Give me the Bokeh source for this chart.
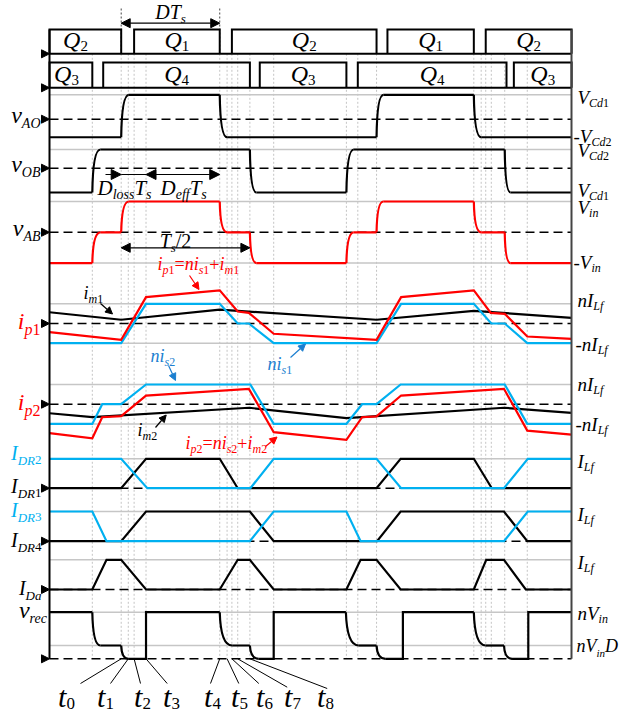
from bokeh.plotting import figure
from bokeh.models import Range1d, ColumnDataSource, Arrow, NormalHead
from bokeh.core.properties import value
from bokeh.embed import file_html
from bokeh.resources import INLINE

# ======================= DATA (time in % of switching period Ts) =======================
T_END = 206.1
t_grid = [16.9, 28.3, 31.1, 33.4, 38.1, 67.2, 70.1, 72.0, 74.3, 79.1, 88.5,
          117.2, 121.7, 129.1, 167.5, 170.4, 172.2, 174.4, 179.7, 188.6]
t_marks = [28.3, 31.1, 33.4, 38.1, 67.2, 70.1, 72.0, 74.3, 79.1]          # t0..t8
t_names = ["0", "1", "2", "3", "4", "5", "6", "7", "8"]
dts_span = [28.3, 67.2]          # D*Ts
half_ts_span = [28.3, 79.1]      # Ts/2
dloss_span = [28.3, 38.1]
deff_span = [38.1, 67.2]

q12_start = [0.0, 33.4, 72.0, 133.4, 172.2]
q12_end = [28.3, 67.2, 129.1, 167.5, T_END]
q12_name = ["2", "1", "2", "1", "2"]
q34_start = [0.0, 21.2, 83.0, 121.7, 183.3]
q34_end = [16.9, 79.1, 117.2, 180.4, T_END]
q34_name = ["3", "4", "3", "4", "3"]

vAO_t = [0, 28.3, 31.3, 67.2, 70.1, 129.1, 131.8, 167.5, 170.4, T_END]
vAO_v = [-0.74, -0.74, 1, 1, -0.74, -0.74, 1, 1, -0.74, -0.74]
vAO_curve = [2, 4, 6, 8]

vOB_t = [0, 16.9, 20.1, 79.1, 81.7, 117.2, 120.1, 179.7, 182.0, T_END]
vOB_v = [-1.3, -1.3, 1, 1, -1.3, -1.3, 1, 1, -1.3, -1.3]
vOB_curve = [2, 4, 6, 8]

vAB_t = [0, 16.9, 20.1, 28.3, 31.3, 67.2, 70.1, 79.1, 81.7, 117.2, 120.1, 129.1, 131.8,
         167.5, 170.4, 179.7, 182.0, T_END]
vAB_v = [-1, -1, 0, 0, 1, 1, 0, 0, -1, -1, 0, 0, 1, 1, 0, 0, -1, -1]
vAB_curve = [2, 4, 6, 8, 10, 12, 14, 16]

im1_t = [0, 28.3, 67.2, 129.1, 167.5, T_END]
im1_v = [0.57, 0.19, 0.70, 0.19, 0.64, 0.29]
nis1_t = [0, 28.3, 38.1, 67.2, 74.3, 78.7, 88.5, 129.1, 138.8, 167.5, 174.4, 179.7, 188.6, T_END]
nis1_v = [-1, -1, 1, 1, 0, 0, -1, -1, 1, 1, 0, 0, -1, -1]
ip1_t = [0, 28.3, 38.1, 67.2, 74.3, 78.7, 88.5, 129.1, 138.8, 167.5, 174.2, 179.7, 188.6, T_END]
ip1_v = [-0.44, -0.83, 1.34, 1.68, 0.61, 0.54, -0.52, -0.83, 1.34, 1.68, 0.54, 0.49, -0.66, -0.78]

im2_t = [0, 16.9, 78.7, 117.2, 179.4, T_END]
im2_v = [-0.46, -0.66, -0.18, -0.71, -0.18, -0.44]
nis2_t = [0, 16.9, 20.8, 28.3, 38.1, 79.3, 88.5, 117.2, 123.4, 129.1, 138.6, 179.7, 188.6, T_END]
nis2_v = [-1, -1, 0, 0, 1, 1, -1, -1, 0, 0, 1, 1, -1, -1]
ip2_t = [0, 16.9, 20.8, 28.3, 38.1, 78.7, 88.5, 117.2, 123.4, 129.1, 138.8, 179.4, 188.6, T_END]
ip2_v = [-1.47, -1.73, -0.66, -0.61, 0.44, 0.78, -1.42, -1.81, -0.66, -0.62, 0.44, 0.78, -1.34, -1.54]

idr2_t = [0, 28.3, 38.6, 79.3, 88.5, 129.1, 138.8, 179.4, 188.8, T_END]
idr2_v = [1, 1, 0, 0, 1, 1, 0, 0, 1, 1]
idr1_t = [0, 28.3, 38.1, 67.2, 74.3, 129.1, 138.6, 167.5, 174.6, T_END]
idr1_v = [0, 0, 1, 1, 0, 0, 1, 1, 0, 0]
idr3_t = [0, 16.9, 22.5, 79.1, 88.5, 117.2, 122.8, 179.4, 188.8, T_END]
idr3_v = [1, 1, 0, 0, 1, 1, 0, 0, 1, 1]
idr4_t = [0, 28.3, 38.1, 79.1, 88.5, 129.3, 138.6, 179.4, 188.6, T_END]
idr4_v = [0, 0, 1, 1, 0, 0, 1, 1, 0, 0]
ida_t = [0, 16.9, 22.5, 28.3, 38.1, 67.2, 74.3, 79.1, 88.5, 117.2, 122.8, 129.1, 138.6,
         167.5, 172.4, 179.4, 188.0, T_END]
ida_v = [0, 0, 1, 1, 0, 0, 1, 1, 0, 0, 1, 1, 0, 0, 1, 1, 0, 0]

D = 0.285
vrec_t = [0, 16.9, 20.1, 28.3, 31.1, 38.1, 38.1, 67.2, 72.1, 79.1, 82.6, 88.5, 88.5,
          117.0, 122.1, 129.1, 132.6, 139.5, 139.5, 167.5, 172.2, 179.4, 182.6, 189.0, 189.0, T_END]
vrec_v = [1, 1, D, D, 0, 0, 1, 1, D, D, 0, 0, 1, 1, D, D, 0, 0, 1, 1, D, D, 0, 0, 1, 1]
vrec_curve = [2, 4, 8, 10, 14, 16, 20, 22]

# ======================= LAYOUT =======================
W, H = 620, 718
X0, KX = 49.0, 2.5333          # left edge, px per % of Ts
XL, XR = 49.0, 571.0
ROW = {  # zero level, unit level (pixel rows)
    "q12": (53.3, 29.0), "q34": (87.3, 62.0),
    "vAO": (118.7, 94.3), "vOB": (167.7, 149.0), "vAB": (231.8, 201.0),
    "ip1": (323.0, 303.3), "ip2": (403.7, 384.0),
    "idr12": (487.7, 458.3), "idr34": (540.7, 511.0), "ida": (589.0, 559.3),
    "vrec": (658.3, 611.7),
}
RED = "#ff0000"
BLUE = "#00b0f0"
BLUE_D = "#1c7fd0"
GREY = "#c6c6c6"
FONT = "Liberation Serif"


def tx(t):
    return X0 + KX * t


def ty(row, v):
    y0, y1 = ROW[row]
    return y0 + (y1 - y0) * v


p = figure(width=W, height=H, x_range=Range1d(0, W), y_range=Range1d(H, 0),
           output_backend="svg", toolbar_location=None, min_border=0,
           x_axis_type=None, y_axis_type=None, outline_line_color=None,
           background_fill_color="white", border_fill_color="white")
p.grid.visible = False

# ---- vertical dotted grid
p.segment(x0=[tx(t) for t in t_grid], y0=[ROW["q12"][0]] * len(t_grid),
          x1=[tx(t) for t in t_grid], y1=[ROW["vrec"][0]] * len(t_grid),
          line_color="#c4c4c4", line_width=1, line_dash="2 2")
p.segment(x0=[tx(t) for t in dts_span], y0=[8, 8], x1=[tx(t) for t in dts_span],
          y1=[ROW["q12"][0]] * 2, line_color="#444444", line_width=1, line_dash="2 2")

# ---- grey level lines
levels = [("vAO", 1), ("vOB", 1), ("vAB", 1), ("vAB", -1), ("ip1", 1), ("ip1", -1),
          ("ip2", 1), ("ip2", -1), ("idr12", 1), ("idr34", 1), ("ida", 1),
          ("vrec", 1), ("vrec", D)]
p.segment(x0=[XL] * len(levels), x1=[XR] * len(levels),
          y0=[ty(r, v) for r, v in levels], y1=[ty(r, v) for r, v in levels],
          line_color=GREY, line_width=1.5)

# ---- dashed zero lines
zrows = ["vAO", "vOB", "vAB", "ip1", "ip2", "idr12", "idr34", "ida", "vrec"]
p.segment(x0=[XL] * len(zrows), x1=[XR] * len(zrows),
          y0=[ty(r, 0) for r in zrows], y1=[ty(r, 0) for r in zrows],
          line_color="black", line_width=1.5, line_dash="9 5")


def wave(t, v, row, color, curved=(), width=2.2):
    xs = [tx(a) for a in t]
    ys = [ty(row, b) for b in v]
    runs_x, runs_y = [], []
    cx, cy = [xs[0]], [ys[0]]
    q = dict(x0=[], y0=[], x1=[], y1=[], cx=[], cy=[])
    for i in range(1, len(xs)):
        if i in curved:
            if len(cx) > 1:
                runs_x.append(cx); runs_y.append(cy)
            q["x0"].append(xs[i - 1]); q["y0"].append(ys[i - 1])
            q["x1"].append(xs[i]); q["y1"].append(ys[i])
            q["cx"].append(xs[i - 1] + 0.08 * (xs[i] - xs[i - 1])); q["cy"].append(ys[i])
            cx, cy = [xs[i]], [ys[i]]
        else:
            cx.append(xs[i]); cy.append(ys[i])
    if len(cx) > 1:
        runs_x.append(cx); runs_y.append(cy)
    p.multi_line(xs=runs_x, ys=runs_y, line_color=color, line_width=width, line_join="miter")
    if q["x0"]:
        p.quadratic(x0="x0", y0="y0", x1="x1", y1="y1", cx="cx", cy="cy",
                    source=ColumnDataSource(q), line_color=color, line_width=width)


# ---- gate signals
for row, st, en in (("q12", q12_start, q12_end), ("q34", q34_start, q34_end)):
    xs, ys = [], []
    for a, b in zip(st, en):
        xs.append([tx(a), tx(a), tx(b), tx(b)])
        ys.append([ty(row, 0), ty(row, 1), ty(row, 1), ty(row, 0)])
    p.multi_line(xs=xs, ys=ys, line_color="black", line_width=2, line_join="miter")
    p.line([XL, XR], [ty(row, 0)] * 2, line_color="black", line_width=2)

# ---- waveforms
wave(vAO_t, vAO_v, "vAO", "black", vAO_curve)
wave(vOB_t, vOB_v, "vOB", "black", vOB_curve)
wave(vAB_t, vAB_v, "vAB", RED, vAB_curve)
wave(im1_t, im1_v, "ip1", "black")
wave(nis1_t, nis1_v, "ip1", BLUE)
wave(ip1_t, ip1_v, "ip1", RED)
wave(im2_t, im2_v, "ip2", "black")
wave(nis2_t, nis2_v, "ip2", BLUE)
wave(ip2_t, ip2_v, "ip2", RED)
wave(idr1_t, idr1_v, "idr12", "black")
wave(idr2_t, idr2_v, "idr12", BLUE)
wave(idr4_t, idr4_v, "idr34", "black")
wave(idr3_t, idr3_v, "idr34", BLUE)
wave(ida_t, ida_v, "ida", "black")
wave(vrec_t, vrec_v, "vrec", "black", vrec_curve)

# ---- frame lines
p.line([XL, XL], [ROW["q12"][1], ROW["vrec"][0]], line_color="black", line_width=2)
p.line([XR, XR], [ROW["q12"][1], ROW["vrec"][0]], line_color="#444444", line_width=2)

# ---- left arrow markers
mrows = ["q12", "q34", "vAO", "vOB", "vAB", "ip1", "ip2", "idr12", "idr34", "ida", "vrec"]
p.patches(xs=[[XL - 8, XL, XL - 8] for _ in mrows],
          ys=[[ty(r, 0) - 4, ty(r, 0), ty(r, 0) + 4] for r in mrows],
          fill_color="black", line_color="black", line_width=1)

# ======================= TEXT =======================
IT_W = {"A": .611, "B": .611, "C": .667, "D": .722, "I": .333, "L": .556, "O": .722,
        "Q": .722, "R": .611, "T": .556, "V": .611, "a": .5, "c": .444, "d": .5,
        "e": .444, "f": .278, "i": .278, "l": .278, "m": .722, "n": .5, "o": .5,
        "p": .5, "r": .389, "s": .389, "t": .278, "v": .444}
RG_W = {"-": .333, "=": .564, "+": .564, "/": .278, " ": .25}
txt = dict(x=[], y=[], text=[], size=[], style=[], color=[])
MID = 0.34   # em-box middle above the baseline


def rich(x, y, parts, color, size, sub, align="left", dy=None):
    """y is the baseline of the main text"""
    if dy is None:
        dy = 0.22 * size
    runs = []
    for s, is_sub in parts:
        fs = sub if is_sub else size
        cur, cls = "", None
        for ch in s:
            c = "italic" if ch.isalpha() else "normal"
            if cur and c != cls:
                runs.append((cur, cls, fs, is_sub)); cur = ""
            cls = c; cur += ch
        if cur:
            runs.append((cur, cls, fs, is_sub))
    ws = []
    for r, st, fs, _ in runs:
        tab = IT_W if st == "italic" else RG_W
        ws.append(sum(tab.get(ch, 0.5) for ch in r) * fs)
    tot = sum(ws)
    cx = x - tot if align == "right" else (x - tot / 2 if align == "center" else x)
    for (r, st, fs, is_sub), w in zip(runs, ws):
        base = y + (dy if is_sub else 0)
        txt["x"].append(cx); txt["y"].append(base - MID * fs)
        txt["text"].append(r); txt["size"].append(f"{fs}px")
        txt["style"].append(st); txt["color"].append(color)
        cx += w


# gate labels
q12_lx = [75, None, None, None, None]
for a, b, n, lx in zip(q12_start, q12_end, q12_name, q12_lx):
    rich(lx if lx else (tx(a) + tx(b)) / 2, 48, [("Q", 0), (n, 1)], "black", 24, 15, "center", 3)
q34_lx = [66, None, None, None, None]
for a, b, n, lx in zip(q34_start, q34_end, q34_name, q34_lx):
    rich(lx if lx else (tx(a) + tx(b)) / 2, 82, [("Q", 0), (n, 1)], "black", 24, 15, "center", 3)

# left labels
left = [("v", "AO", 123, "black", 24, 14, 40), ("v", "OB", 172, "black", 24, 14, 40),
        ("v", "AB", 236, "black", 24, 14, 40), ("i", "p1", 329, RED, 24, 16, 40),
        ("i", "p2", 410, RED, 24, 16, 40), ("I", "DR2", 459, BLUE, 20, 13, 41),
        ("I", "DR1", 492, "black", 20, 13, 41), ("I", "DR3", 516, BLUE, 20, 13, 41),
        ("I", "DR4", 546, "black", 20, 13, 41), ("I", "Da", 594, "black", 20, 13, 41),
        ("v", "rec", 618, "black", 24, 14, 47)]
for m, s, y, c, fs, ss, xr in left:
    rich(xr, y, [(m, 0), (s, 1)], c, fs, ss, "right", 5)

# right labels
right = [(577, 103, [("V", 0), ("Cd1", 1)]), (573, 142, [("-V", 0), ("Cd2", 1)]),
         (577, 156, [("V", 0), ("Cd2", 1)]), (577, 196, [("V", 0), ("Cd1", 1)]),
         (577, 213, [("V", 0), ("in", 1)]), (573, 268, [("-V", 0), ("in", 1)]),
         (577, 306, [("nI", 0), ("Lf", 1)]), (575, 350, [("-nI", 0), ("Lf", 1)]),
         (577, 390, [("nI", 0), ("Lf", 1)]), (575, 430, [("-nI", 0), ("Lf", 1)]),
         (577, 467, [("I", 0), ("Lf", 1)]), (577, 520, [("I", 0), ("Lf", 1)]),
         (577, 568, [("I", 0), ("Lf", 1)]), (577, 619, [("nV", 0), ("in", 1)])]
for x, y, parts in right:
    rich(x, y, parts, "black", 19, 12, "left", 4)
rich(576, 652, [("nV", 0), ("in", 1), ("D", 0)], "black", 18, 11, "left", 4)

# annotations
rich(170, 18.5, [("DT", 0), ("s", 1)], "black", 20, 13, "center", 4)
rich(97, 195, [("D", 0), ("loss", 1), ("T", 0), ("s", 1)], "black", 21, 14, "left", 4)
rich(160, 195, [("D", 0), ("eff", 1), ("T", 0), ("s", 1)], "black", 21, 14, "left", 4)
rich(175, 247, [("T", 0), ("s", 1), ("/2", 0)], "black", 20, 13, "center", 4)
rich(157, 270, [("i", 0), ("p1", 1), ("=ni", 0), ("s1", 1), ("+i", 0), ("m1", 1)], RED, 18, 12, "left", 4)
rich(83, 299, [("i", 0), ("m1", 1)], "black", 18, 12, "left", 4)
rich(150, 362, [("ni", 0), ("s2", 1)], BLUE_D, 18, 12, "left", 4)
rich(267, 370, [("ni", 0), ("s1", 1)], BLUE_D, 18, 12, "left", 4)
rich(137, 436, [("i", 0), ("m2", 1)], "black", 18, 12, "left", 4)
rich(185, 449, [("i", 0), ("p2", 1), ("=ni", 0), ("s2", 1), ("+i", 0), ("m2", 1)], RED, 18, 12, "left", 4)

# time labels
t_lx = [66, 105, 142, 171, 212, 239, 264, 292, 325]
for n, lx in zip(t_names, t_lx):
    rich(lx, 706.5, [("t", 0), (n, 1)], "black", 30, 17, "center", 2)
lead_top_x = [80, 110, 140, 166.7, 210, 238.3, 258.3, 286.7, 326.7]
lead_top_y = [683, 683, 683, 683, 683, 683, 683, 686.7, 688]
p.segment(x0=lead_top_x, y0=lead_top_y, x1=[tx(t) for t in t_marks],
          y1=[ROW["vrec"][0]] * len(t_marks), line_color="black", line_width=1)

p.text(x="x", y="y", text="text", source=ColumnDataSource(txt),
       text_font=value(FONT), text_font_size={"field": "size"},
       text_font_style={"field": "style"}, text_color={"field": "color"},
       text_align="left", text_baseline="middle")

# ---- arrows
def arrow(x0, y0, x1, y1, color="black", start=False, end=True, size=8, lw=1.2):
    kw = dict(x_start=x0, y_start=y0, x_end=x1, y_end=y1, line_color=color, line_width=lw)
    kw["end"] = NormalHead(size=size, fill_color=color, line_color=color, line_width=1) if end else None
    kw["start"] = NormalHead(size=size, fill_color=color, line_color=color, line_width=1) if start else None
    p.add_layout(Arrow(**kw))


arrow(tx(dts_span[0]), 22.7, tx(dts_span[1]), 22.7, start=True, size=9)
arrow(tx(half_ts_span[0]), 247.3, tx(half_ts_span[1]), 247.3, start=True, size=9)
arrow(105, 174, tx(dloss_span[0]), 174, size=10)
p.line([tx(dloss_span[0]), tx(dloss_span[1])], [174, 174], line_color="black", line_width=1.2)
arrow(tx(deff_span[0]), 174, tx(deff_span[1]), 174, start=True, size=10)
arrow(189, 275, 198.5, 289, RED, size=7)
arrow(100, 303, 112, 313.5, size=7)
arrow(168, 365, 175, 380, BLUE_D, size=7)
arrow(290, 357, 305, 343.5, BLUE_D, size=7)
arrow(155, 427, 165.7, 414.5, size=7)
arrow(265, 446, 276.5, 436.5, RED, size=7)

open("out.html", "w").write(file_html(p, INLINE))
